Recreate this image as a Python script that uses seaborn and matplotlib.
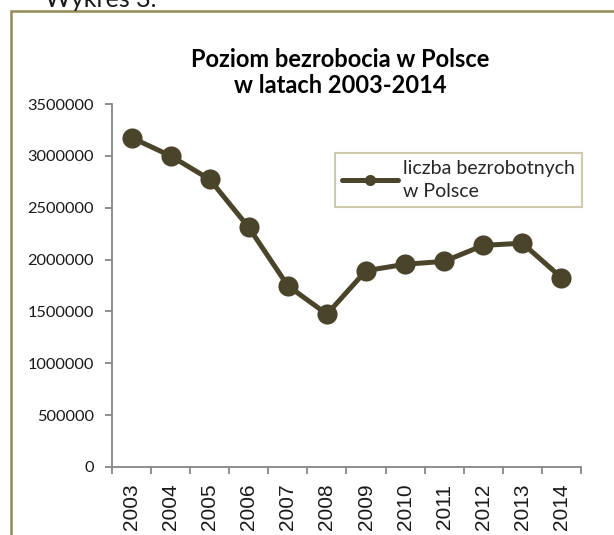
import matplotlib
matplotlib.use("Agg")
import matplotlib.pyplot as plt
import seaborn as sns
import pandas as pd
from matplotlib.patches import Rectangle
from matplotlib.ticker import FixedLocator, FuncFormatter

years = [2003, 2004, 2005, 2006, 2007, 2008, 2009, 2010, 2011, 2012, 2013, 2014]
unemployed = [3175674, 2999601, 2773000, 2309410, 1746573, 1473752,
              1892680, 1954706, 1982676, 2136815, 2157883, 1825180]
y_ticks = [0, 500000, 1000000, 1500000, 2000000, 2500000, 3000000, 3500000]
series_label = "liczba bezrobotnych\nw Polsce"
title = "Poziom bezrobocia w Polsce\nw latach 2003-2014"

df = pd.DataFrame({"rok": years, "liczba": unemployed})

sns.set_theme(style="white")
W, H = 614, 535
fig = plt.figure(figsize=(W / 100, H / 100), dpi=100)
ax = fig.add_axes([112 / W, 1 - 467 / H, (581 - 112) / W, (467 - 104) / H])

line_color = "#4A452A"
sns.lineplot(data=df, x="rok", y="liczba", ax=ax, color=line_color,
             linewidth=3.6, marker="o", markersize=14.5, markeredgewidth=0,
             label=series_label, clip_on=False)

ax.set_xlim(years[0] - 0.5, years[-1] + 0.5)
ax.set_ylim(0, 3500000)
ax.set_xlabel("")
ax.set_ylabel("")

axis_color = "#868686"
for s in ["top", "right"]:
    ax.spines[s].set_visible(False)
for s in ["left", "bottom"]:
    ax.spines[s].set_color(axis_color)
    ax.spines[s].set_linewidth(1.3)

ax.yaxis.set_major_locator(FixedLocator(y_ticks))
ax.yaxis.set_major_formatter(FuncFormatter(lambda v, p: f"{int(v)}"))
ax.tick_params(axis="y", which="major", direction="out", length=5, width=1.3,
               color=axis_color, pad=8, left=True)
for t in ax.get_yticklabels():
    t.set_fontfamily("Lato")
    t.set_fontsize(11.8)
    t.set_color("#1a1a1a")

ax.xaxis.set_major_locator(FixedLocator(years))
ax.xaxis.set_minor_locator(FixedLocator([y - 0.5 for y in years] + [years[-1] + 0.5]))
ax.tick_params(axis="x", which="major", length=0, pad=12, labelrotation=90)
ax.tick_params(axis="x", which="minor", direction="out", length=5, width=1.3,
               color=axis_color, bottom=True)
for t in ax.get_xticklabels():
    t.set_fontfamily("Liberation Sans")
    t.set_fontsize(15)
    t.set_color("#1a1a1a")

fig.text(340 / W, 1 - 48 / H, title, ha="center", va="top", fontsize=17,
         fontweight="bold", fontfamily="Lato", linespacing=1.15, color="#000000")

leg = ax.legend(loc="upper left",
                bbox_to_anchor=((335 - 112) / (581 - 112), (467 - 153) / (467 - 104)),
                frameon=True, fancybox=False, handlelength=2.9, borderpad=0.35,
                prop={"family": "Lato", "size": 14}, handletextpad=0.25,
                borderaxespad=0)
leg.get_frame().set_edgecolor("#C4BD97")
leg.get_frame().set_linewidth(1.5)
for t in leg.get_texts():
    t.set_linespacing(1.45)
for h in leg.legend_handles:
    h.set_markersize(8)

fig.patches.append(Rectangle((11 / W, -0.1), 1.2, 1 - 11 / H + 0.1, transform=fig.transFigure,
                             fill=False, edgecolor="#948A54", linewidth=1.8))
fig.text(45 / W, 1 - 7 / H, "Wykres 3.", ha="left", va="baseline", fontsize=18,
         fontfamily="Lato", color="#1a1a1a")

fig.savefig("out.png", dpi=100)
